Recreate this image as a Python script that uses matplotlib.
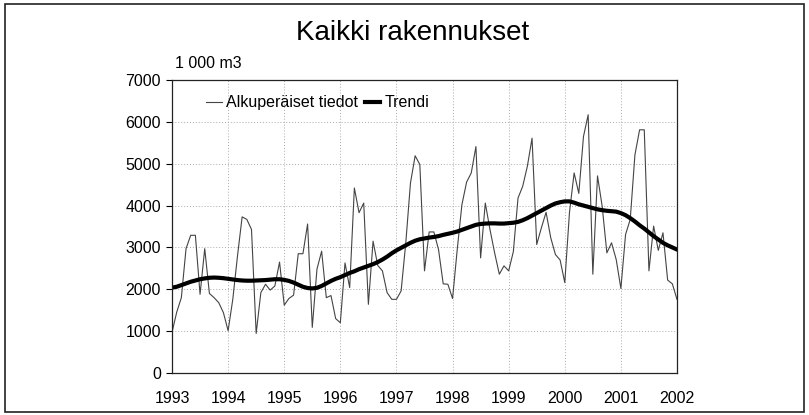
import matplotlib
matplotlib.use("Agg")
import matplotlib.pyplot as plt
from matplotlib.patches import Rectangle
import numpy as np

plt.rcParams["font.family"] = ["Liberation Sans Narrow", "Liberation Sans", "DejaVu Sans"]

title = "Kaikki rakennukset"
unit_label = "1 000 m3"
years = [1993, 1994, 1995, 1996, 1997, 1998, 1999, 2000, 2001, 2002]
yticks = [0, 1000, 2000, 3000, 4000, 5000, 6000, 7000]

# monthly values, Jan 1993 .. Jan 2002 (1 000 m3)
original = [
    970, 1450, 1800, 2970, 3290, 3290, 1880, 2970, 1900, 1800, 1680, 1440,
    1010, 1760, 2790, 3730, 3670, 3430, 945, 1920, 2120, 1980, 2080, 2650,
    1620, 1780, 1860, 2850, 2850, 3560, 1090, 2480, 2910, 1800, 1850, 1300,
    1200, 2630, 2040, 4420, 3830, 4060, 1640, 3150, 2570, 2440, 1920, 1760,
    1760, 1960, 3110, 4540, 5190, 4980, 2440, 3370, 3370, 2950, 2130, 2120,
    1780, 2950, 4020, 4560, 4780, 5410, 2750, 4060, 3430, 2870, 2360, 2560,
    2440, 2900, 4180, 4460, 4940, 5610, 3070, 3470, 3840, 3230, 2830, 2700,
    2160, 3830, 4780, 4290, 5650, 6170, 2360, 4710, 3980, 2870, 3110, 2710,
    2020, 3310, 3670, 5210, 5810, 5810, 2440, 3510, 2930, 3350, 2220, 2130,
    1760,
]
trend = [
    2040, 2060, 2100, 2140, 2180, 2210, 2240, 2260, 2275, 2280, 2275, 2265,
    2250, 2235, 2220, 2210, 2205, 2205, 2210, 2215, 2220, 2230, 2240, 2240,
    2225, 2200, 2160, 2110, 2060, 2030, 2020, 2035, 2080, 2140, 2200, 2250,
    2290, 2340, 2390, 2430, 2480, 2520, 2560, 2600, 2650, 2710, 2780, 2860,
    2930, 2990, 3050, 3110, 3160, 3195, 3215, 3235, 3250, 3270, 3300, 3325,
    3350, 3380, 3420, 3460, 3500, 3540, 3560, 3570, 3575, 3575, 3570, 3570,
    3580, 3590, 3610, 3650, 3700, 3760, 3820, 3880, 3940, 4000, 4050, 4080,
    4100, 4100, 4070, 4030, 4000, 3970, 3940, 3910, 3890, 3875, 3865, 3855,
    3820, 3770, 3700, 3620, 3530, 3450, 3360, 3270, 3190, 3110, 3050, 3000,
    2950,
]

t = years[0] + np.arange(len(original)) / 12.0

fig = plt.figure(figsize=(8.09, 4.15), dpi=100)
ax = fig.add_axes([172 / 809, 42 / 415, 505 / 809, 293 / 415])

ax.plot(t, original, color="#444444", lw=0.8, label="Alkuperäiset tiedot")
ax.plot(t, trend, color="black", lw=3.0, label="Trendi")

ax.set_xlim(years[0], years[-1])
ax.set_ylim(yticks[0], yticks[-1])
ax.set_xticks(years)
ax.set_yticks(yticks)
ax.tick_params(axis="x", length=0, pad=13, labelsize=11.5)
ax.tick_params(axis="y", length=4, width=0.8, pad=4, labelsize=11.5)
ax.grid(True, linestyle=(0, (1, 2)), color="#aaaaaa", lw=0.7)
for s in ax.spines.values():
    s.set_linewidth(0.9)
    s.set_color("#222222")

ax.legend(loc="upper left", bbox_to_anchor=(0.055, 0.97), ncol=2, frameon=False,
          fontsize=11.5, handlelength=1.0, handletextpad=0.25, columnspacing=0.4,
          borderaxespad=0.0)

fig.text(0.51, 0.92, title, ha="center", va="center", fontsize=20)
ax.text(0.005, 1.03, unit_label, transform=ax.transAxes, ha="left", va="bottom", fontsize=11.5)

fig.patches.append(Rectangle((0.006, 0.008), 0.988, 0.982, transform=fig.transFigure,
                             fill=False, lw=1.2, edgecolor="#222222"))

fig.savefig("out.png", dpi=100)
